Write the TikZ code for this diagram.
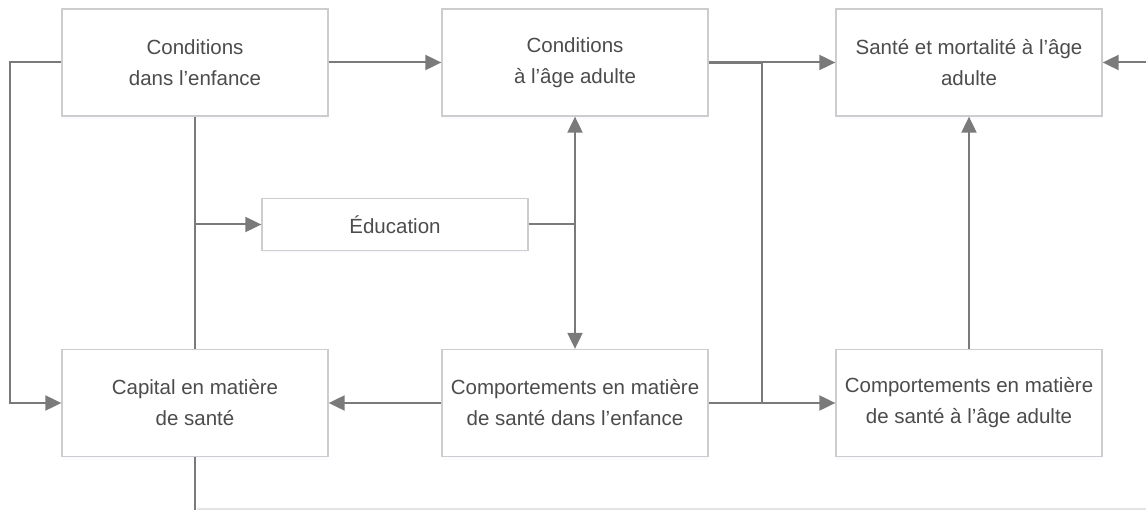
\documentclass[tikz,border=0pt]{standalone}
\usepackage{fontspec}
\setmainfont{Liberation Sans}
\usetikzlibrary{arrows.meta,shadows}
\definecolor{txt}{HTML}{4C4C4C}
\definecolor{bord}{HTML}{CDCDCD}
\definecolor{faintc}{HTML}{E4E4E4}
\definecolor{conn}{HTML}{7A7A7A}
\tikzset{
  box/.style={draw=bord, line width=1.3pt, fill=white, minimum width=266pt, minimum height=107pt,
    align=center, text=txt, font=\fontsize{20.5}{31}\selectfont, inner sep=0pt,
    drop shadow={shadow xshift=0pt, shadow yshift=-3pt, opacity=0.25, fill=blue!8}},
  smallbox/.style={box, minimum height=52pt},
  link/.style={draw=conn, line width=2pt},
  arr/.style={link, -{Triangle[length=16pt,width=15pt]}},
  darr/.style={link, {Triangle[length=16pt,width=15pt]}-{Triangle[length=16pt,width=15pt]}},
  faint/.style={draw=faintc, line width=1.2pt}
}
\begin{document}
\begin{tikzpicture}[x=1pt,y=-1pt]
\useasboundingbox (0,0) rectangle (1146,510);
\node[box] (A) at (195,62.5) {Conditions\\dans l’enfance};
\node[box] (B) at (575,62.5) {Conditions\\à l’âge adulte};
\node[box] (C) at (969,62.5) {Santé et mortalité à l’âge\\adulte};
\node[smallbox] (Ed) at (395,224.5) {Éducation};
\node[box] (D) at (195,403) {Capital en matière\\de santé};
\node[box] (E) at (575,403) {Comportements en matière\\de santé dans l’enfance};
\node[box] (F) at (969,403) {Comportements en matière\\de santé à l’âge adulte};
\coordinate (L) at (10,62.5);
\coordinate (J) at (762,62.5);
\coordinate (R) at (1146,62.5);
\coordinate (Bot) at (195,510);
\coordinate (BL) at (197,509);
\coordinate (BR) at (1146,509);
% connectors
\draw[arr] (A.west) -- (L) |- (D.west);
\draw[arr] (A.east) -- (B.west);
\draw[link] (A.south) -- (D.north);
\draw[arr] (A.south |- Ed.west) -- (Ed.west);
\draw[link] (Ed.east) -- (Ed.east -| B.south);
\draw[darr] (B.south) -- (E.north);
\draw[link, line width=3pt] (B.east) -- (J);
\draw[arr] (J) -- (C.west);
\draw[link] (J) -- (J |- E.east);
\draw[arr] (E.west) -- (D.east);
\draw[arr] (E.east) -- (F.west);
\draw[arr] (F.north) -- (C.south);
\draw[arr] (R) -- (C.east);
\draw[link] (D.south) -- (Bot);
\draw[faint] (BL) -- (BR);
\end{tikzpicture}
\end{document}
